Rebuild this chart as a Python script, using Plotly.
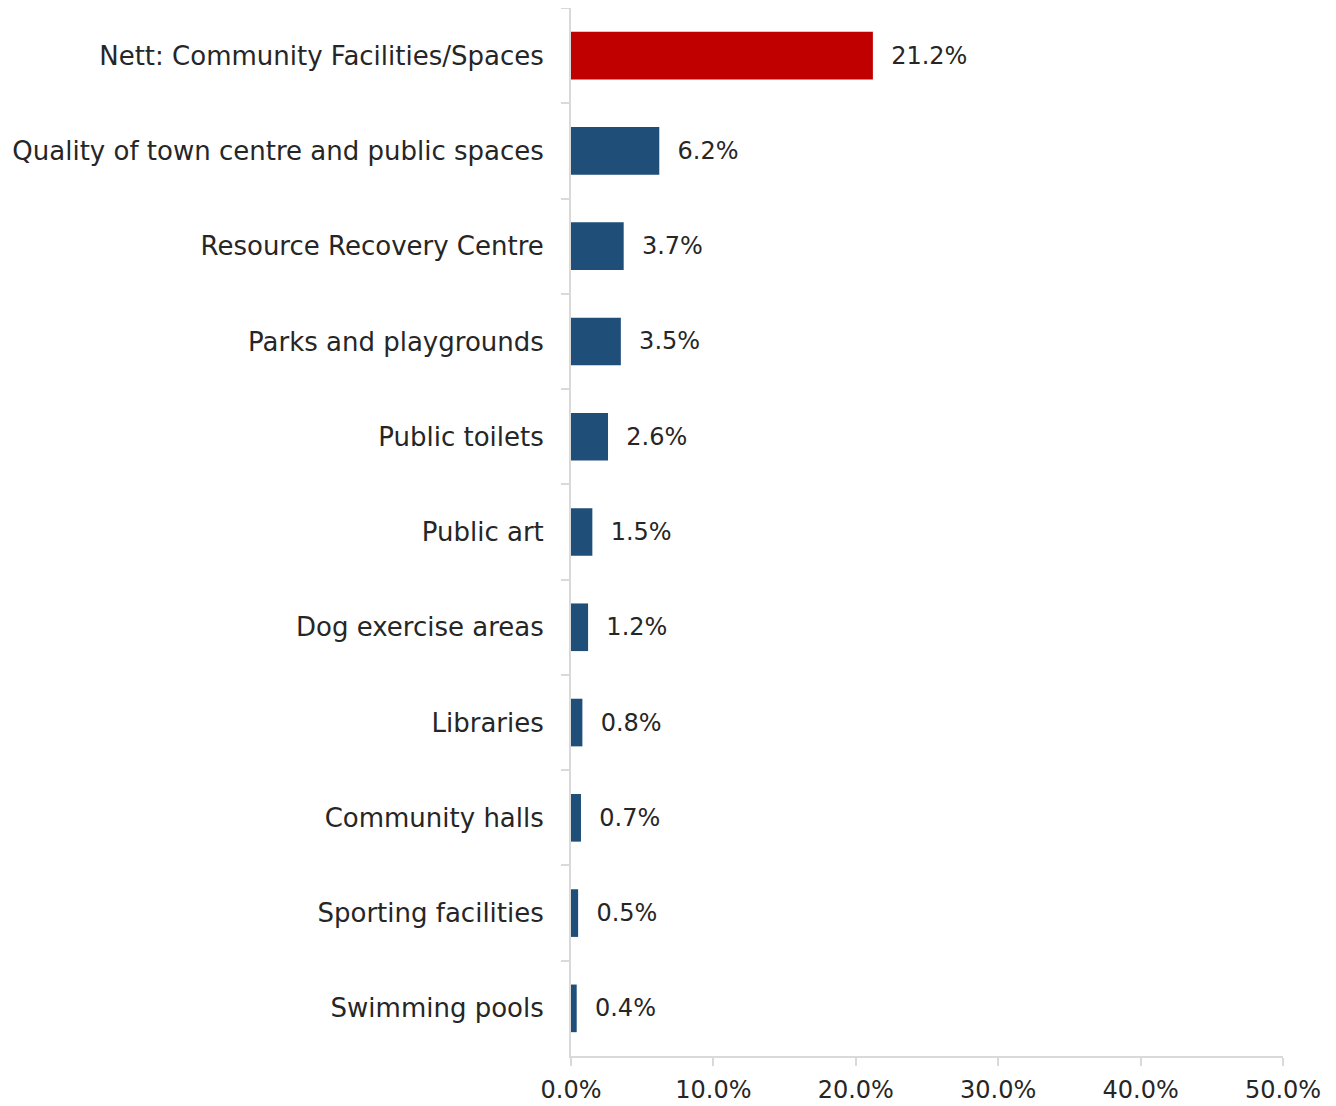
import plotly.graph_objects as go

categories = [
    "Nett: Community Facilities/Spaces",
    "Quality of town centre and public spaces",
    "Resource Recovery Centre",
    "Parks and playgrounds",
    "Public toilets",
    "Public art",
    "Dog exercise areas",
    "Libraries",
    "Community halls",
    "Sporting facilities",
    "Swimming pools",
]
values = [21.2, 6.2, 3.7, 3.5, 2.6, 1.5, 1.2, 0.8, 0.7, 0.5, 0.4]
bar_colors = ["#C00000"] + ["#1F4E79"] * 10
x_ticks = [0, 10, 20, 30, 40, 50]

FONT = "Century Gothic, DejaVu Sans, sans-serif"

fig = go.Figure(
    go.Bar(
        x=values,
        y=categories,
        orientation="h",
        marker=dict(color=bar_colors, line=dict(width=0)),
        width=0.5,
        text=["  %.1f%%" % v for v in values],
        textposition="outside",
        textfont=dict(family=FONT, size=24, color="#262626"),
        cliponaxis=False,
    )
)

fig.update_layout(
    width=1336,
    height=1106,
    margin=dict(l=563, r=61, t=0, b=58),
    paper_bgcolor="white",
    plot_bgcolor="white",
    showlegend=False,
    font=dict(family=FONT, size=24, color="#262626"),
)

fig.update_yaxes(
    autorange="reversed",
    type="category",
    showline=True,
    linecolor="#D9D9D9",
    linewidth=2,
    ticks="outside",
    tickson="boundaries",
    ticklen=8,
    tickcolor="#D9D9D9",
    tickwidth=2,
    ticklabelstandoff=20,
    showgrid=False,
    tickfont=dict(family=FONT, size=26, color="#262626"),
)

fig.update_xaxes(
    range=[0, 50],
    tickvals=x_ticks,
    ticktext=["%.1f%%" % v for v in x_ticks],
    showline=True,
    linecolor="#D9D9D9",
    linewidth=2,
    ticks="outside",
    ticklen=8,
    tickcolor="#D9D9D9",
    tickwidth=2,
    ticklabelstandoff=3,
    showgrid=False,
    zeroline=False,
    tickfont=dict(family=FONT, size=24, color="#262626"),
)

fig.write_html("out.html")
